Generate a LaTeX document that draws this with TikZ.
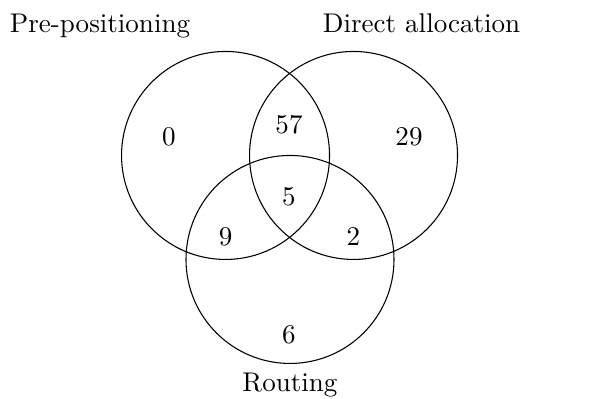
\documentclass[tikz,border=0pt]{standalone}
\usepackage{tikz}
\usetikzlibrary{positioning}
\usepackage{amsmath}

\begin{document}
\begin{tikzpicture}[every node/.style={inner sep=0pt},set/.style={black}]

    \useasboundingbox (0,0) rectangle (7.67,5.187);

    %centres of the three sets
    \coordinate (pre) at (2.932,3.166);
    \coordinate (dir) at (4.596,3.166);
    \coordinate (rou) at (3.770,1.814);

    \draw[set] (pre) circle (1.352);
    \draw[set] (dir) circle (1.352);
    \draw[set] (rou) circle (1.352);

    %set names
    \node[anchor=base] (prelabel) at (1.30,4.767) {Pre-positioning};
    \node[anchor=base] (dirlabel) at (5.48,4.767) {Direct allocation};
    \node[anchor=base] (roulabel) at (3.77,0.095) {Routing};

    %counts
    \node (n0)  at (2.197,3.410) {0};
    \node (n57) at (3.757,3.562) {57};
    \node (n29) at (5.317,3.410) {29};
    \node (n5)  at (3.757,2.630) {5};
    \node (n9)  at (2.934,2.110) {9};
    \node (n2)  at (4.593,2.110) {2};
    \node (n6)  at (3.757,0.832) {6};

\end{tikzpicture}
\end{document}
